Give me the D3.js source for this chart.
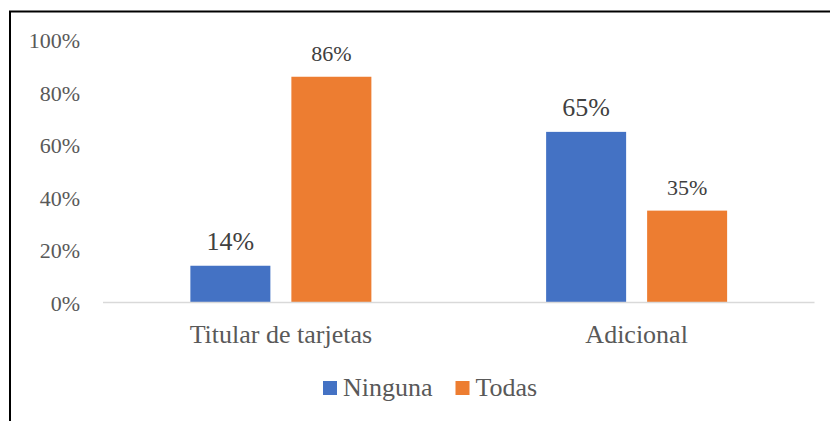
<!DOCTYPE html>
<html>
<head>
<meta charset="utf-8">
<script src="https://cdn.jsdelivr.net/npm/d3@7/dist/d3.min.js"></script>
<style>
  html, body { margin: 0; padding: 0; background: #fff; }
  svg { display: block; font-family: "Liberation Serif", "Times New Roman", serif; }
</style>
</head>
<body>
<svg id="chart" width="830" height="421"></svg>
<script>
const categories = ["Titular de tarjetas", "Adicional"];
const seriesNames = ["Ninguna", "Todas"];
const ningunaValues = [0.14, 0.65];
const todasValues = [0.86, 0.35];
const yTicks = [0, 0.2, 0.4, 0.6, 0.8, 1.0];

const seriesColors = { "Ninguna": "#4472c4", "Todas": "#ed7d31" };
const labelSizes = { "Ninguna": 26, "Todas": 22 };

const svg = d3.select("#chart");
const W = 830, H = 421;

// outer frame (only left and top visible)
svg.append("rect")
  .attr("x", 10).attr("y", 11.5)
  .attr("width", 900).attr("height", 500)
  .attr("fill", "none").attr("stroke", "#000").attr("stroke-width", 2);

const plotLeft = 103, plotRight = 814.5, plotTop = 40, plotBottom = 302.5;

const x0 = d3.scaleBand().domain(categories).range([plotLeft, plotRight]).paddingInner(0).paddingOuter(0);
const y = d3.scaleLinear().domain([0, 1]).range([plotBottom, plotTop]);

const barW = 80, barGap = 21;
const x1 = d3.scaleOrdinal().domain(seriesNames).range([-(barGap / 2) - barW, barGap / 2]);

const data = [];
categories.forEach((c, i) => {
  data.push({ cat: c, series: "Ninguna", value: ningunaValues[i] });
  data.push({ cat: c, series: "Todas", value: todasValues[i] });
});

// y axis labels
const yAxis = d3.axisLeft(y).tickValues(yTicks).tickFormat(d3.format(".0%")).tickSize(0).tickPadding(0);
const gy = svg.append("g").attr("transform", "translate(80,0)").call(yAxis);
gy.select(".domain").remove();
gy.selectAll("text")
  .attr("fill", "#595959")
  .style("font-family", "'Liberation Serif', 'Times New Roman', serif")
  .style("font-size", "22px")
  .attr("dy", "0.35em");

// bars
svg.append("g").selectAll("rect").data(data).join("rect")
  .attr("x", d => x0(d.cat) + x0.bandwidth() / 2 + x1(d.series))
  .attr("y", d => y(d.value))
  .attr("width", barW)
  .attr("height", d => y(0) - y(d.value))
  .attr("fill", d => seriesColors[d.series]);

// baseline
svg.append("line")
  .attr("x1", plotLeft).attr("x2", plotRight)
  .attr("y1", y(0)).attr("y2", y(0))
  .attr("stroke", "#d9d9d9").attr("stroke-width", 1.5);

// data labels
svg.append("g").selectAll("text").data(data).join("text")
  .attr("x", d => x0(d.cat) + x0.bandwidth() / 2 + x1(d.series) + barW / 2)
  .attr("y", d => y(d.value) - 16)
  .attr("text-anchor", "middle")
  .attr("fill", "#404040")
  .style("font-size", d => labelSizes[d.series] + "px")
  .text(d => d3.format(".0%")(d.value));

// category labels
svg.append("g").selectAll("text").data(categories).join("text")
  .attr("x", d => x0(d) + x0.bandwidth() / 2)
  .attr("y", 343)
  .attr("text-anchor", "middle")
  .attr("fill", "#595959")
  .style("font-size", "26px")
  .text(d => d);

// legend
const legendX = [323, 455.5];
const lg = svg.append("g").selectAll("g").data(seriesNames).join("g")
  .attr("transform", (d, i) => `translate(${legendX[i]},0)`);
lg.append("rect").attr("x", 0).attr("y", 381).attr("width", 14).attr("height", 14)
  .attr("fill", d => seriesColors[d]);
lg.append("text").attr("x", 20).attr("y", 396)
  .attr("fill", "#595959").style("font-size", "26px")
  .text(d => d);
</script>
</body>
</html>
